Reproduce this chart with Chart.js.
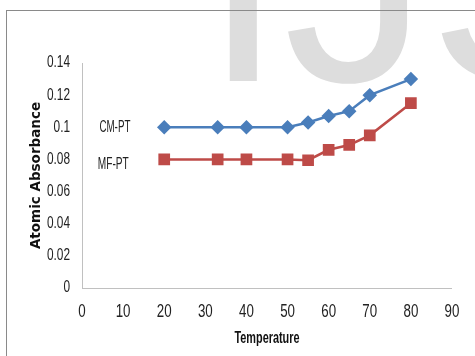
<!DOCTYPE html>
<html lang="en">
<head>
    <meta charset="UTF-8">
    <title>Atomic Absorbance vs Temperature</title>
    <script src="https://cdn.jsdelivr.net/npm/chart.js"></script>
    <style>
        body {
            margin: 0;
            background: #fff;
        }
        #wrap {
            position: relative;
            width: 475px;
            height: 356px;
            overflow: hidden;
        }
        #mark {
            position: absolute;
            left: 203px;
            top: -165px;
            font-family: "Liberation Sans", Arial, sans-serif;
            font-size: 290px;
            line-height: 1;
            color: #dddddd;
            white-space: nowrap;
        }
        #frame {
            position: absolute;
            left: 6px;
            top: 10px;
            width: 600px;
            height: 400px;
            border-top: 1px solid #8a8a8a;
            border-left: 1px solid #8a8a8a;
            pointer-events: none;
        }
        canvas {
            position: absolute;
            left: 0;
            top: 0;
        }
    </style>
</head>
<body>
<div id="wrap">
    <div id="mark">IJSER</div>
    <canvas id="absChart" width="475" height="356"></canvas>
    <div id="frame"></div>
</div>

<script>
    // temperatures and readings
    const temps = [20, 33, 40, 50, 55, 60, 65, 70, 80];
    const cmPT = [0.1, 0.1, 0.1, 0.1, 0.103, 0.107, 0.11, 0.12, 0.13];
    const mfPT = [0.08, 0.08, 0.08, 0.08, 0.0795, 0.086, 0.089, 0.095, 0.115];
    const seriesNames = ["CM-PT", "MF-PT"];
    const xTicks = [0, 10, 20, 30, 40, 50, 60, 70, 80, 90];
    const yTicks = [0, 0.02, 0.04, 0.06, 0.08, 0.1, 0.12, 0.14];

    const sans = "'Liberation Sans', Arial, sans-serif";

    const toPoints = vals => temps.map((t, i) => ({ x: t, y: vals[i] }));

    // the original uses a narrow font; no narrow face is installed, so
    // squeeze Liberation Sans text sideways when it is painted
    const condense = {
        id: "condense",
        beforeDraw(chart) {
            const ctx = chart.ctx;
            if (ctx._squeezed) return;
            const fill = ctx.fillText;
            ctx.fillText = function (text, x, y, maxWidth) {
                if (!/Liberation/.test(this.font)) {
                    return maxWidth === undefined ? fill.call(this, text, x, y) : fill.call(this, text, x, y, maxWidth);
                }
                const k = /bold/.test(this.font) ? 0.68 : 0.74;
                this.save();
                this.translate(x, y);
                this.scale(k, 1);
                if (maxWidth === undefined) fill.call(this, text, 0, 0);
                else fill.call(this, text, 0, 0, maxWidth / k);
                this.restore();
            };
            ctx._squeezed = true;
        }
    };

    // series names are written next to the lines instead of a legend
    const lineLabels = {
        id: "lineLabels",
        afterDatasetsDraw(chart) {
            const { ctx, scales } = chart;
            const spots = [[8, 0.1], [7.6, 0.077]];
            ctx.save();
            ctx.font = "16px " + sans;
            ctx.fillStyle = "#222";
            ctx.textAlign = "center";
            ctx.textBaseline = "middle";
            seriesNames.forEach((name, i) => {
                ctx.fillText(name, scales.x.getPixelForValue(spots[i][0]), scales.y.getPixelForValue(spots[i][1]), 31);
            });
            ctx.restore();
        }
    };

    new Chart(document.getElementById("absChart"), {
        type: "line",
        data: {
            datasets: [
                {
                    label: seriesNames[0],
                    data: toPoints(cmPT),
                    borderColor: "#4a7ebb",
                    backgroundColor: "#4a7ebb",
                    borderWidth: 2.5,
                    pointStyle: "rectRot",
                    pointRadius: 5.5,
                    tension: 0
                },
                {
                    label: seriesNames[1],
                    data: toPoints(mfPT),
                    borderColor: "#be4b48",
                    backgroundColor: "#be4b48",
                    borderWidth: 2.5,
                    pointStyle: "rect",
                    pointRadius: 6.5,
                    tension: 0
                }
            ]
        },
        options: {
            responsive: false,
            animation: false,
            layout: { padding: { left: 0, top: 63, right: 18, bottom: 0 } },
            plugins: {
                legend: { display: false },
                tooltip: { enabled: false }
            },
            scales: {
                x: {
                    type: "linear",
                    min: xTicks[0],
                    max: xTicks[xTicks.length - 1],
                    afterBuildTicks: s => { s.ticks = xTicks.map(v => ({ value: v })); },
                    afterFit: s => { s.height = 68; },
                    grid: { display: false, drawTicks: false },
                    border: { color: "#c0c0c0", width: 1 },
                    ticks: {
                        padding: 13,
                        maxRotation: 0,
                        autoSkip: false,
                        color: "#222",
                        font: { family: sans, size: 18 }
                    },
                    title: {
                        display: true,
                        text: "Temperature",
                        color: "#111",
                        font: { family: sans, size: 16, weight: "bold" },
                        padding: { top: 0, bottom: 8 }
                    }
                },
                y: {
                    min: yTicks[0],
                    max: yTicks[yTicks.length - 1],
                    afterBuildTicks: s => { s.ticks = yTicks.map(v => ({ value: v })); },
                    afterFit: s => { s.width = 82; },
                    grid: { display: false, drawTicks: false },
                    border: { color: "#c0c0c0", width: 1 },
                    ticks: {
                        padding: 12,
                        color: "#222",
                        font: { family: sans, size: 16 },
                        callback: v => String(+v.toFixed(2))
                    },
                    title: {
                        display: true,
                        text: "Atomic Absorbance",
                        color: "#111",
                        font: { family: "'DejaVu Sans', sans-serif", size: 13.5, weight: "bold" },
                        padding: { top: 28, bottom: 0 }
                    }
                }
            }
        },
        plugins: [condense, lineLabels]
    });
</script>
</body>
</html>
